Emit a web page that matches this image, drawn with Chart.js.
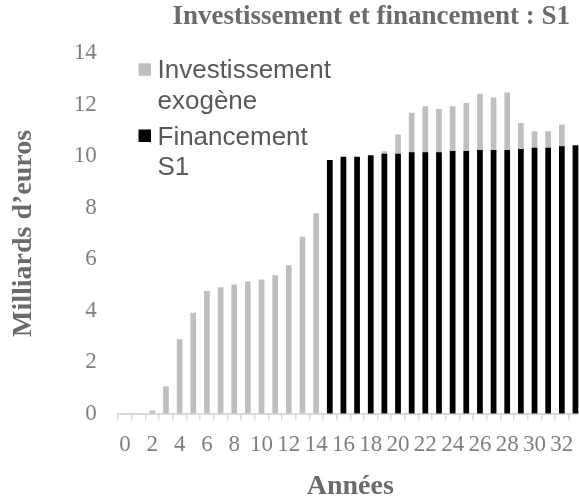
<!DOCTYPE html>
<html>
<head>
<meta charset="utf-8">
<script src="https://cdn.jsdelivr.net/npm/chart.js@4/dist/chart.umd.min.js"></script>
<style>
  html, body { margin: 0; padding: 0; overflow: hidden; background: #ffffff; width: 579px; height: 498px; }
  canvas { display: block; }
</style>
</head>
<body>
<canvas id="c" width="590" height="498"></canvas>
<script>
// ---- data ----
const years = ['0','1','2','3','4','5','6','7','8','9','10','11','12','13','14','15','16','17','18','19','20','21','22','23','24','25','26','27','28','29','30','31','32','33'];
const investissement = [0, 0, 0.1, 1.05, 2.87, 3.9, 4.75, 4.9, 5.0, 5.12, 5.2, 5.36, 5.75, 6.86, 7.77,
  9.8, 9.9, 9.9, 10.0, 10.18, 10.83, 11.68, 11.93, 11.83, 11.93, 12.06, 12.42, 12.27, 12.47, 11.28, 10.96, 10.96, 11.22, 10.3];
const financement = [null, null, null, null, null, null, null, null, null, null, null, null, null, null, null,
  9.84, 9.97, 9.97, 10.03, 10.09, 10.09, 10.14, 10.14, 10.14, 10.19, 10.19, 10.23, 10.23, 10.23, 10.27, 10.32, 10.32, 10.38, 10.42];
const yTicks = [0, 2, 4, 6, 8, 10, 12, 14];
const seriesLabels = ['Investissement exogène', 'Financement S1'];
const titleText = 'Investissement et financement : S1';
const xTitle = 'Années';
const yTitle = 'Milliards d’euros';

// ---- custom title (right aligned) ----
const titlePlugin = {
  id: 'rightTitle',
  afterDraw(chart) {
    const ctx = chart.ctx;
    ctx.save();
    ctx.font = 'bold 27px "Liberation Serif", serif';
    ctx.fillStyle = '#6b6b6b';
    ctx.textAlign = 'right';
    ctx.textBaseline = 'alphabetic';
    ctx.fillText(titleText, 570, 23.5);
    ctx.restore();
  }
};

// ---- custom legend (two-line labels) ----
const legendPlugin = {
  id: 'wrapLegend',
  afterDraw(chart) {
    const ctx = chart.ctx;
    ctx.save();
    ctx.font = '26px "Liberation Sans", Arial, sans-serif';
    ctx.textAlign = 'left';
    ctx.textBaseline = 'alphabetic';
    const baseY = [78.3, 144.5];
    chart.data.datasets.forEach((ds, i) => {
      const lines = ds.label.split(' ');
      const y0 = baseY[i];
      ctx.fillStyle = ds.backgroundColor;
      ctx.fillRect(138.5, y0 - 15, 12.5, 12.5);
      ctx.fillStyle = '#595959';
      lines.forEach((ln, k) => ctx.fillText(ln, 157.5, y0 + k * 30.5));
    });
    ctx.restore();
  }
};

const serif = '"Liberation Serif", "Times New Roman", serif';

new Chart(document.getElementById('c'), {
  type: 'bar',
  data: {
    labels: years,
    datasets: [
      { label: seriesLabels[0], data: investissement, backgroundColor: '#bfbfbf', barThickness: 5, order: 2 },
      { label: seriesLabels[1], data: financement, backgroundColor: '#000000', barThickness: 5, order: 1 }
    ]
  },
  plugins: [titlePlugin, legendPlugin],
  options: {
    responsive: false,
    animation: false,
    devicePixelRatio: 1,
    layout: { padding: { top: 53.4, right: 7.7, left: 0, bottom: 0 } },
    plugins: {
      legend: { display: false },
      title: { display: false },
      tooltip: { enabled: false }
    },
    scales: {
      x: {
        stacked: true,
        offset: true,
        grid: { display: true, drawOnChartArea: false, drawTicks: true, tickLength: 7, color: '#d9d9d9', lineWidth: 1.5, offset: true },
        border: { display: true, color: '#d9d9d9', width: 2 },
        ticks: {
          autoSkip: false, maxRotation: 0, minRotation: 0, padding: 10.5,
          color: '#7f7f7f', font: { family: serif, size: 23 },
          callback: (v, i) => (i % 2 === 0 ? years[i] : '')
        },
        title: { display: true, text: xTitle, color: '#6b6b6b', font: { family: serif, size: 28, weight: 'bold', lineHeight: 0.8 }, padding: { top: 0, bottom: 0 } },
        afterFit: (s) => { s.height = 498 - 413.5; }
      },
      y: {
        stacked: false,
        min: 0, max: 14,
        afterBuildTicks: (s) => { s.ticks = yTicks.map(v => ({ value: v })); },
        grid: { display: false, drawTicks: false },
        border: { display: false },
        ticks: { padding: 21.5, color: '#7f7f7f', font: { family: serif, size: 23 } },
        title: { display: true, text: yTitle, color: '#6b6b6b', font: { family: serif, size: 28, weight: 'bold', lineHeight: 1.2 }, padding: { top: 6.7, bottom: 0 } },
        afterFit: (s) => { s.width = 118.2; }
      }
    }
  }
});
</script>
</body>
</html>
